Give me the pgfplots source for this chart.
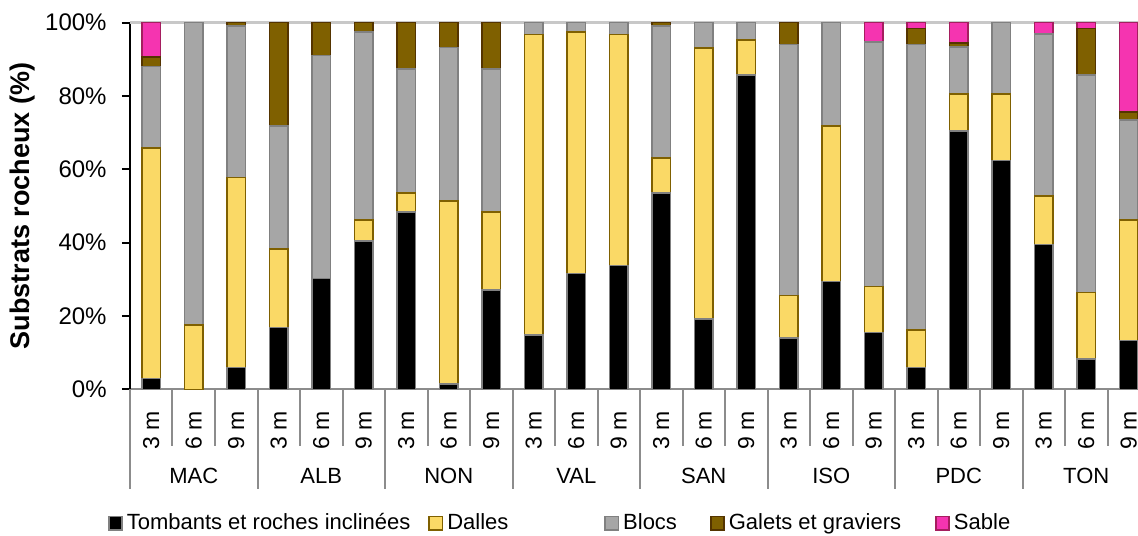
\documentclass[border=0pt]{standalone}
\usepackage{graphicx}
\usepackage{pgfplots}
\pgfplotsset{compat=1.18}
\usepackage{pgfplotstable}
\usepackage{fontspec}
\setmainfont{Liberation Sans}

\definecolor{cBorderGray}{RGB}{128,128,128}
\definecolor{cDalles}{RGB}{250,217,102}
\definecolor{cDallesB}{RGB}{127,96,0}
\definecolor{cBlocs}{RGB}{166,166,166}
\definecolor{cGalets}{RGB}{127,96,0}
\definecolor{cGaletsB}{RGB}{84,52,0}
\definecolor{cSable}{RGB}{245,52,176}
\definecolor{cSableB}{RGB}{165,30,95}
\definecolor{cSep}{RGB}{140,140,140}
\definecolor{cTop}{RGB}{200,200,200}

\pgfplotstableread{
x T D B G S
0 3.0 62.9 22.1 2.7 9.3
1 0 17.5 82.5 0 0
2 6.0 51.8 41.3 0.9 0
3 16.9 21.3 33.6 28.2 0
4 30.2 0 60.9 8.9 0
5 40.4 5.8 51.3 2.5 0
6 48.4 5.1 33.9 12.6 0
7 1.5 49.9 41.8 6.8 0
8 27.1 21.3 39.0 12.6 0
9 14.8 82.0 3.2 0 0
10 31.6 65.9 2.5 0 0
11 33.8 63.0 3.2 0 0
12 53.6 9.5 36.0 0.9 0
13 19.2 73.9 6.9 0 0
14 85.7 9.6 4.7 0 0
15 14.0 11.6 68.4 6.0 0
16 29.4 42.4 28.2 0 0
17 15.5 12.5 66.7 0 5.3
18 6.0 10.2 77.8 4.4 1.6
19 70.5 10.0 12.8 1.1 5.6
20 62.4 18.1 19.5 0 0
21 39.5 13.2 44.2 0 3.1
22 8.2 18.2 59.3 12.7 1.6
23 13.3 32.9 27.3 2.1 24.4
}\data

\begin{document}
\begin{tikzpicture}
\begin{axis}[name=ax,
  scale only axis, width=510pt, height=183.3pt,
  ybar stacked, bar width=9.4pt,
  xmin=-0.5, xmax=23.5, ymin=0, ymax=100,
  clip=false,
  axis x line*=bottom, axis y line*=left,
  x axis line style={draw=cSep, line width=1pt},
  y axis line style={draw=black, line width=1pt},
  tick align=outside, major tick length=4pt,
  ytick={0,20,...,100},
  yticklabel={\pgfmathprintnumber{\tick}\%},
  yticklabel style={font=\fontsize{12}{14}\selectfont, inner sep=0pt, anchor=east, xshift=-7.5pt},
  ytick style={draw=black, line width=1pt},
  /pgf/number format/assume math mode=true,
  extra y ticks={100}, extra y tick labels={},
  extra y tick style={grid=major, major grid style={draw=cTop, line width=1.3pt}, ytick style={draw=black, line width=1pt}},
  xtick={0,...,23},
  xticklabels={\rotatebox{90}{3 m},\rotatebox{90}{6 m},\rotatebox{90}{9 m},
               \rotatebox{90}{3 m},\rotatebox{90}{6 m},\rotatebox{90}{9 m},
               \rotatebox{90}{3 m},\rotatebox{90}{6 m},\rotatebox{90}{9 m},
               \rotatebox{90}{3 m},\rotatebox{90}{6 m},\rotatebox{90}{9 m},
               \rotatebox{90}{3 m},\rotatebox{90}{6 m},\rotatebox{90}{9 m},
               \rotatebox{90}{3 m},\rotatebox{90}{6 m},\rotatebox{90}{9 m},
               \rotatebox{90}{3 m},\rotatebox{90}{6 m},\rotatebox{90}{9 m},
               \rotatebox{90}{3 m},\rotatebox{90}{6 m},\rotatebox{90}{9 m}},
  xtick style={draw=none},
  xticklabel style={font=\fontsize{11.5}{13}\selectfont, anchor=center, inner sep=0pt, yshift=-16.5pt},
  extra x ticks={1,4,7,10,13,16,19,22},
  extra x tick labels={MAC,ALB,NON,VAL,SAN,ISO,PDC,TON},
  extra x tick style={xtick style={draw=none}, xticklabel style={font=\fontsize{11}{13}\selectfont, yshift=-23pt}},
  every axis y label/.style={at={(axis description cs:-0.1056,0.5)}, rotate=90, anchor=center},
  ylabel={Substrats rocheux (\%)},
  ylabel style={font=\bfseries\fontsize{13.5}{16}\selectfont},
  legend columns=5,
  legend style={draw=none, fill=none, inner sep=0pt, outer sep=0pt,
    font=\fontsize{11}{13}\selectfont,
    at={(axis description cs:-0.0216,-0.365)}, anchor=west,
    /tikz/every odd column/.append style={column sep=0pt},
    /tikz/column 2/.style={column sep=7pt},
    /tikz/column 4/.style={column sep=46pt},
    /tikz/column 6/.style={column sep=14.5pt},
    /tikz/column 8/.style={column sep=15pt}},
  legend image code/.code={\draw[#1, line width=0.8pt] (0pt,-3.3pt) rectangle (6.6pt,3.3pt);},
]
\addplot[fill=black, draw=cBorderGray, line width=0.8pt] table[x=x,y=T]{\data};
\addlegendentry{Tombants et roches inclinées}
\addplot[fill=cDalles, draw=cDallesB, line width=0.8pt] table[x=x,y=D]{\data};
\addlegendentry{Dalles}
\addplot[fill=cBlocs, draw=cBorderGray, line width=0.8pt] table[x=x,y=B]{\data};
\addlegendentry{Blocs}
\addplot[fill=cGalets, draw=cGaletsB, line width=0.8pt] table[x=x,y=G]{\data};
\addlegendentry{Galets et graviers}
\addplot[fill=cSable, draw=cSableB, line width=0.8pt] table[x=x,y=S]{\data};
\addlegendentry{Sable}
\pgfplotsinvokeforeach{0.5,1.5,3.5,4.5,6.5,7.5,9.5,10.5,12.5,13.5,15.5,16.5,18.5,19.5,21.5,22.5}{
  \draw[cSep, line width=1pt] (axis cs:#1,0) -- ++(0pt,-28.5pt);
}
\pgfplotsinvokeforeach{-0.5,2.5,5.5,8.5,11.5,14.5,17.5,20.5,23.5}{
  \draw[cSep, line width=1pt] (axis cs:#1,0) -- ++(0pt,-50pt);
}
\end{axis}
\pgfresetboundingbox
\path[use as bounding box] ([shift={(-65pt,-72.85pt)}]ax.south west) rectangle ++(569pt,267.5pt);
\end{tikzpicture}
\end{document}
